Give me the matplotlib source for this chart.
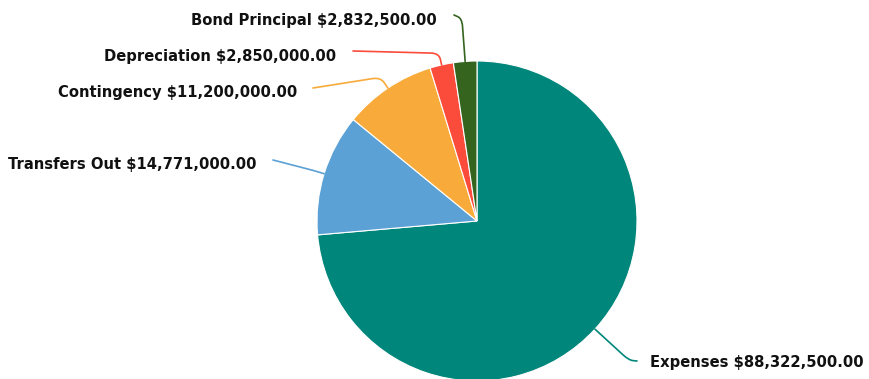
import numpy as np
import matplotlib
matplotlib.use("Agg")
import matplotlib.pyplot as plt
from matplotlib.path import Path
from matplotlib.patches import PathPatch

# budget breakdown
categories = ["Expenses", "Transfers Out", "Contingency", "Depreciation", "Bond Principal"]
amounts = [88322500.00, 14771000.00, 11200000.00, 2850000.00, 2832500.00]
colors = ["#00867a", "#5ba1d5", "#f8ab3a", "#fb4b3a", "#35641f"]

# layout in pixel units (y grows downward)
W, H = 869, 379
cx, cy, R = 477, 221, 160
# label anchor, alignment, elbow distance from the rim
label_pos = [(650, 363, "left"), (257, 164, "right"), (297, 92, "right"),
             (336, 56, "right"), (437, 20, "right")]
line_end = [(637, 361), (273, 160), (313, 88), (353, 51), (454, 15)]
elbow_dist = [46, 10, 13, 12, 43]

fig = plt.figure(figsize=(W / 100, H / 100), dpi=100)
ax = fig.add_axes([0, 0, 1, 1])

ax.pie(amounts, colors=colors, center=(cx, cy), radius=R, startangle=-90,
       counterclock=True, wedgeprops=dict(edgecolor="white", linewidth=0.8),
       frame=True)
ax.set_xlim(0, W)
ax.set_ylim(H, 0)
ax.set_aspect("equal")
ax.axis("off")

fracs = np.array(amounts) / sum(amounts)
starts = np.concatenate([[0], np.cumsum(fracs)[:-1]])


def connector(p0, elbow, p2, rnd=8):
    p0, elbow, p2 = map(np.asarray, (p0, elbow, p2))
    d1 = elbow - p0
    d2 = p2 - elbow
    r1 = min(rnd, np.linalg.norm(d1) * 0.5)
    r2 = min(rnd, np.linalg.norm(d2) * 0.5)
    a = elbow - d1 / np.linalg.norm(d1) * r1
    b = elbow + d2 / np.linalg.norm(d2) * r2
    verts = [p0, a, elbow, b, p2]
    codes = [Path.MOVETO, Path.LINETO, Path.CURVE3, Path.CURVE3, Path.LINETO]
    return Path(verts, codes)


for i, name in enumerate(categories):
    theta = np.deg2rad(-90 + 360 * (starts[i] + fracs[i] / 2))
    u = np.array([np.cos(theta), np.sin(theta)])
    p0 = np.array([cx, cy]) + u * R
    elbow = p0 + u * elbow_dist[i]
    path = connector(p0, elbow, line_end[i])
    ax.add_patch(PathPatch(path, facecolor="none", edgecolor=colors[i], lw=1.2,
                           capstyle="round", joinstyle="round"))
    lx, ly, ha = label_pos[i]
    ax.text(lx, ly, f"{name} ${amounts[i]:,.2f}", ha=ha, va="center",
            fontsize=10.6, fontweight="bold", family="DejaVu Sans", color="#111111")

fig.savefig("out.png", dpi=100)
